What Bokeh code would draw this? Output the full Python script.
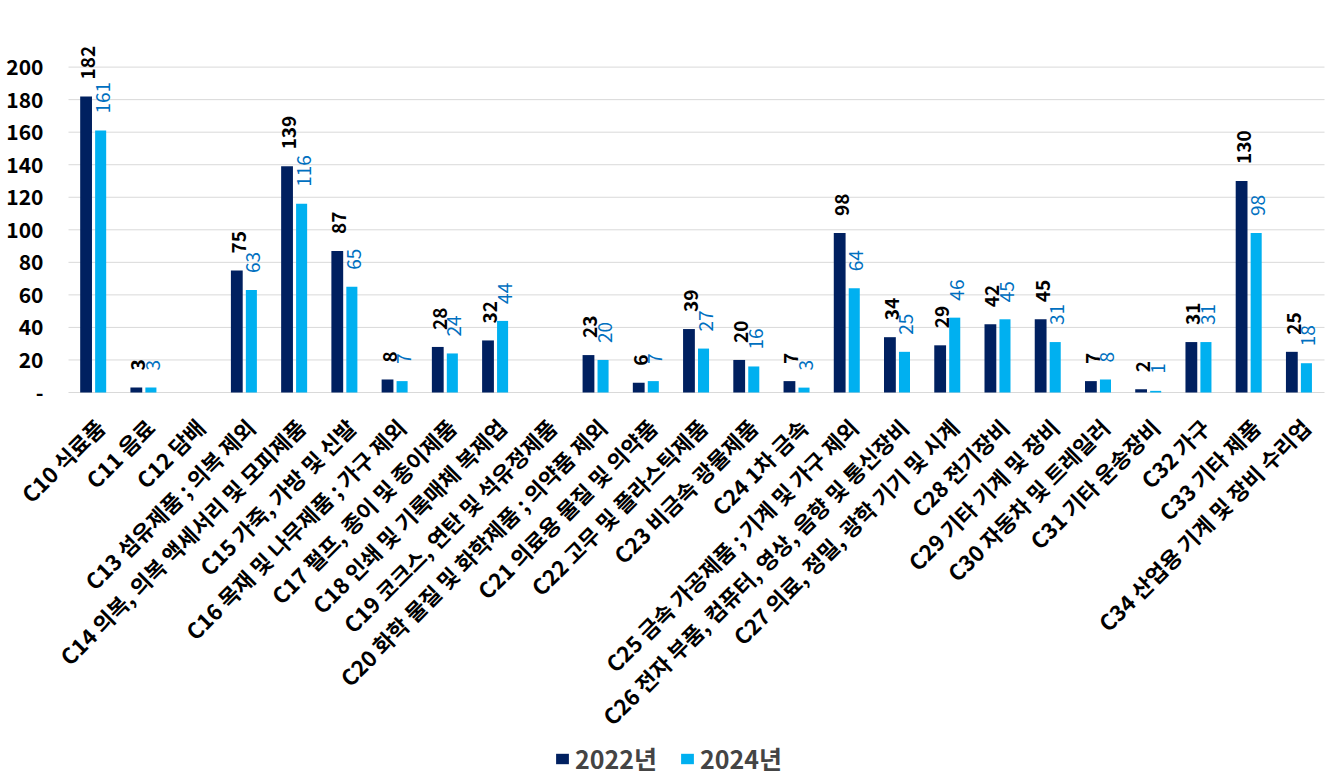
import math
from bokeh.plotting import figure
from bokeh.models import ColumnDataSource, Range1d, Legend, LegendItem
from bokeh.transform import dodge
from bokeh.core.properties import value
from bokeh.embed import file_html
from bokeh.resources import INLINE

categories = [
    "C10 식료품", "C11 음료", "C12 담배", "C13 섬유제품 ; 의복 제외",
    "C14 의복, 의복 액세서리 및 모피제품", "C15 가죽, 가방 및 신발",
    "C16 목재 및 나무제품 ; 가구 제외", "C17 펄프, 종이 및 종이제품",
    "C18 인쇄 및 기록매체 복제업", "C19 코크스, 연탄 및 석유정제품",
    "C20 화학 물질 및 화학제품 ; 의약품 제외", "C21 의료용 물질 및 의약품",
    "C22 고무 및 플라스틱제품", "C23 비금속 광물제품", "C24 1차 금속",
    "C25 금속 가공제품 ; 기계 및 가구 제외", "C26 전자 부품, 컴퓨터, 영상, 음향 및 통신장비",
    "C27 의료, 정밀, 광학 기기 및 시계", "C28 전기장비", "C29 기타 기계 및 장비",
    "C30 자동차 및 트레일러", "C31 기타 운송장비", "C32 가구", "C33 기타 제품",
    "C34 산업용 기계 및 장비 수리업",
]
y2022 = [182, 3, 0, 75, 139, 87, 8, 28, 32, 0, 23, 6, 39, 20, 7, 98, 34, 29, 42, 45, 7, 2, 31, 130, 25]
y2024 = [161, 3, 0, 63, 116, 65, 7, 24, 44, 0, 20, 7, 27, 16, 3, 64, 25, 46, 45, 31, 8, 1, 31, 98, 18]
series = ["2022년", "2024년"]
yticks = [0, 20, 40, 60, 80, 100, 120, 140, 160, 180, 200]
ytick_labels = ["-", "20", "40", "60", "80", "100", "120", "140", "160", "180", "200"]

DARK = "#002060"
LIGHT = "#00B0F0"
LBLUE = "#0070C0"
GRID = "#d9d9d9"
FONT = "Noto Sans CJK KR"

# layout (pixels)
W, H = 1332, 779
PLOT_LEFT = 68          # left edge of category area, canvas px
PLOT_RIGHT = 1324       # right edge of category area
ZERO_Y = 392            # canvas y of value 0
PX_PER_UNIT_Y = 1.627   # px per value unit

n = len(categories)
px_x = (PLOT_RIGHT - PLOT_LEFT) / n
xs = -0.5 - PLOT_LEFT / px_x
xe = xs + W / px_x
ytop = ZERO_Y / PX_PER_UNIT_Y
ybot = -(H - ZERO_Y) / PX_PER_UNIT_Y

idx = list(range(n))
src = ColumnDataSource(dict(i=idx, cat=categories, a=y2022, b=y2024))

p = figure(x_range=Range1d(xs, xe), y_range=Range1d(ybot, ytop),
           width=W, height=H, output_backend="svg", toolbar_location=None,
           x_axis_location=None, y_axis_location=None, min_border=0)
p.grid.visible = False
p.outline_line_color = None

# gridlines at the y ticks across the category span
p.segment(x0=[-0.5] * len(yticks), x1=[n - 0.5] * len(yticks), y0=yticks, y1=yticks,
          line_color=GRID, line_width=1)

r1 = p.vbar(x=dodge("i", -0.15), top="a", width=0.235, source=src,
            fill_color=DARK, line_color=None)
r2 = p.vbar(x=dodge("i", 0.14), top="b", width=0.22, source=src,
            fill_color=LIGHT, line_color=None)

la = ColumnDataSource(dict(i=[k for k, v in zip(idx, y2022) if v > 0],
                           v=[v for v in y2022 if v > 0],
                           t=[str(v) for v in y2022 if v > 0]))
lb = ColumnDataSource(dict(i=[k for k, v in zip(idx, y2024) if v > 0],
                           v=[v for v in y2024 if v > 0],
                           t=[str(v) for v in y2024 if v > 0]))

p.text(x=dodge("i", -0.15), y="v", text="t", source=la,
       angle=math.pi / 2, text_align="left", text_baseline="middle",
       x_offset=2, y_offset=-17, text_font=value(FONT), text_font_style="bold",
       text_font_size="19px", text_color="#000000")
p.text(x=dodge("i", 0.14), y="v", text="t", source=lb,
       angle=math.pi / 2, text_align="left", text_baseline="middle",
       x_offset=2, y_offset=-17, text_font=value(FONT), text_font_style="normal",
       text_font_size="19px", text_color=LBLUE)

# y tick labels
p.text(x=[-0.5] * len(yticks), y=yticks, text=ytick_labels,
       text_align="right", text_baseline="middle", x_offset=-25,
       text_font=value(FONT), text_font_style="bold", text_font_size="21px",
       text_color="#000000")

# category labels
p.text(x="i", y=0, text="cat", source=src,
       angle=math.pi / 4, text_align="right", text_baseline="middle",
       x_offset=6, y_offset=30, text_font=value(FONT), text_font_style="bold",
       text_font_size="22px", text_color="#000000")

legend = Legend(items=[LegendItem(label=series[0], renderers=[r1]),
                       LegendItem(label=series[1], renderers=[r2])],
                orientation="horizontal", location=(554, 3),
                label_text_font=FONT, label_text_font_style="bold",
                label_text_font_size="25px", glyph_width=16, glyph_height=13,
                label_standoff=5, spacing=22, border_line_color=None,
                background_fill_alpha=0, padding=0, margin=0)
p.add_layout(legend, "center")

open("out.html", "w").write(file_html(p, INLINE))
